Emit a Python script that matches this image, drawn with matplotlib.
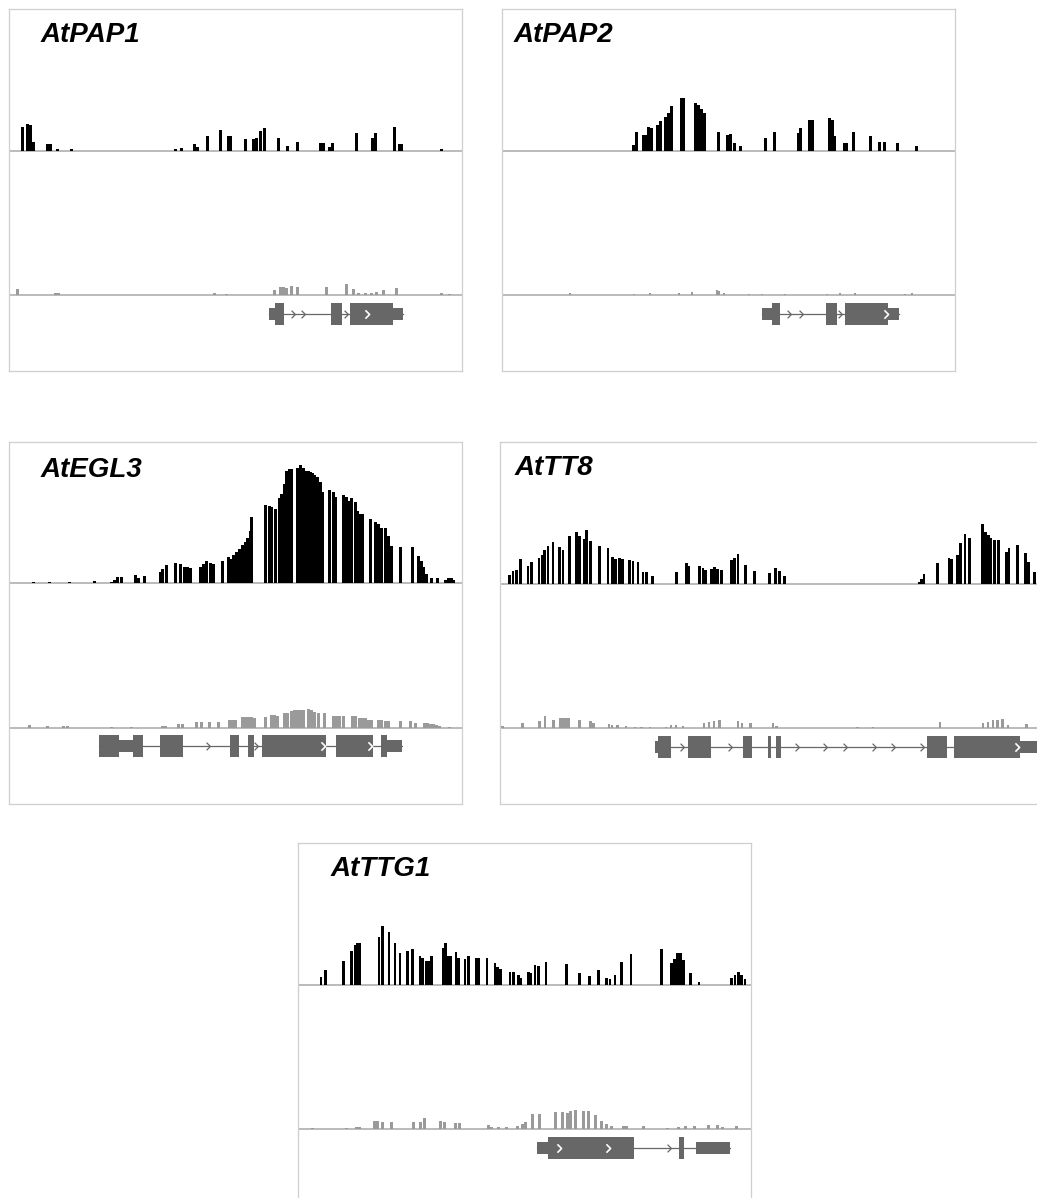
import matplotlib.pyplot as plt
from matplotlib.patches import Rectangle
from matplotlib.path import Path

# figure size in pixels (dpi 100)
FIG_W, FIG_H = 1037, 1198

# ---- coverage data (position along the locus, read depth) ----
# AtPAP1
pap1_x = [12, 17, 20, 23, 37, 40, 47, 61, 165, 171, 184, 187, 197, 210, 218, 220, 235, 243, 246, 250,
          254, 268, 277, 287, 310, 313, 319, 322, 346, 362, 365, 384, 389, 391, 431]
pap1_h = [24, 27, 26, 9, 7, 7, 2, 2, 2, 3, 7, 4, 15, 21, 15, 15, 12, 12, 13, 20,
          23, 13, 5, 9, 8, 8, 4, 8, 18, 13, 18, 24, 7, 7, 2]
pap1_lo_x = [7, 45, 48, 204, 216, 264, 270, 273, 276, 281, 287, 316, 336, 343, 348, 355, 361, 366, 373, 386, 431, 439]
pap1_lo_h = [6, 2, 2, 2, 1, 5, 8, 8, 7, 9, 8, 8, 11, 6, 2, 2, 2, 3, 5, 7, 2, 1]

# AtPAP2
pap2_x = [130, 133, 140, 142, 145, 148, 154, 157, 162, 165, 168, 178, 180, 192, 195, 198, 201, 215, 224, 227,
          231, 237, 262, 271, 295, 297, 306, 309, 326, 329, 331, 341, 343, 350, 367, 376, 381, 394, 413]
pap2_h = [6, 19, 16, 16, 24, 23, 26, 30, 34, 38, 45, 53, 53, 48, 46, 42, 38, 19, 16, 17,
          8, 5, 13, 19, 18, 23, 31, 31, 33, 31, 15, 8, 8, 19, 15, 9, 9, 8, 5]
pap2_lo_x = [67, 131, 147, 176, 189, 214, 216, 221, 246, 259, 282, 324, 337, 352, 402, 409]
pap2_lo_h = [2, 1, 2, 2, 3, 5, 4, 2, 1, 1, 1, 1, 2, 2, 1, 2]

# AtEGL3
egl3_x = [23, 39, 59, 84, 101, 104, 107, 111, 125, 128,
          134, 149.3, 151.7, 156, 165, 169.3, 173.3, 176.7, 179.3, 189.3,
          192.7, 196, 199.3, 202.7, 211.7, 217.7, 220, 222.7, 226, 228.7,
          231.7, 234.3, 237, 239.3, 241, 255, 258.3, 261, 264.3, 268.7,
          271, 273.3, 276, 278.3, 281, 286.7, 290, 292.7, 295.3, 297.7,
          299.3, 301.3, 303.3, 306.7, 309.3, 311.7, 318.3, 322.7, 325, 332.7,
          336, 338.3, 341, 344.3, 347, 349.3, 352, 360, 365, 367.7,
          371, 374.3, 377.7, 380.3, 389.3, 401.7, 407.7, 410.3, 412.7, 415.3,
          421, 427, 434.3, 437.7, 440.3, 442.7]
egl3_h = [1, 1, 1, 2, 1, 3, 6, 6, 8, 5,
          7, 11, 14, 18, 20, 19, 16, 16, 15, 16,
          19, 22, 20, 19, 22, 26, 24, 28, 31, 34,
          38, 41, 45, 52, 66, 78, 77, 76, 74, 85,
          89, 99, 112, 114, 114, 115, 118, 115, 112, 112,
          111, 110, 108, 106, 101, 91, 93, 91, 86, 88,
          86, 82, 85, 81, 72, 69, 69, 64, 61, 59,
          55, 55, 47, 37, 36, 36, 27, 22, 16, 9,
          5, 5, 3, 5, 5, 3]
egl3_lo_x = [19, 37, 53, 57, 101, 121, 152, 155, 168, 172,
             186, 191, 199, 208, 219, 222, 225, 232, 235, 238,
             241, 244, 255, 261, 264, 267, 274, 277, 281, 284,
             287, 290, 293, 298, 301, 304, 308, 314, 323, 326,
             329, 333, 342, 345, 349, 352, 355, 358, 361, 368,
             371, 375, 378, 390, 400, 405, 414, 417, 420, 423,
             426, 429, 439]
egl3_lo_h = [3, 2, 2, 2, 1, 1, 2, 2, 4, 4,
             6, 6, 6, 6, 8, 8, 8, 11, 11, 11,
             11, 10, 11, 13, 13, 12, 15, 15, 17, 18,
             18, 18, 18, 19, 18, 16, 15, 15, 12, 12,
             12, 12, 12, 12, 10, 10, 10, 8, 8, 8,
             8, 7, 7, 7, 7, 5, 5, 5, 4, 4,
             3, 2, 1]

# AtTT8
tt8_x = [8, 11.3, 14.7, 18.7, 26.3, 29.7, 37.3, 40.7, 43, 46.3,
         51.3, 58, 61.3, 68, 74.7, 78, 82.5, 85, 88.7, 98,
         106.3, 110.7, 114, 118, 120.7, 128, 131.3, 136.3, 141.3, 144.7,
         150.7, 174.7, 184.7, 187.3, 198, 201.3, 204, 209.7, 213, 216,
         219.7, 229.7, 233, 236.3, 244, 253, 268, 274, 278, 283,
         417.3, 420, 422.3, 436, 447.3, 450, 456, 459, 463.3, 467.7,
         480.7, 484, 486.7, 489.3, 492.7, 496.7, 505, 507.3, 516, 524,
         526.7, 532.7]
tt8_h = [9, 13, 14, 25, 18, 22, 26, 29, 34, 38,
         42, 37, 34, 48, 52, 48, 45, 54, 43, 38,
         36, 27, 25, 26, 25, 24, 23, 22, 12, 12,
         8, 12, 21, 18, 18, 16, 14, 15, 17, 15,
         14, 24, 26, 30, 19, 13, 11, 16, 13, 8,
         2, 5, 10, 21, 26, 25, 29, 41, 50, 46,
         60, 52, 49, 46, 44, 44, 32, 36, 39, 31,
         22, 12]
tt8_lo_x = [1.2, 21, 38, 43.4, 52, 59, 62, 65, 67, 78,
            89, 92, 107.3, 110.8, 116, 124.6, 133.3, 140.2, 148.8, 164.4,
            169.6, 174.7, 181.7, 202.4, 207.6, 212.8, 218, 236.3, 240.4, 249,
            271.5, 275, 356.2, 371.8, 438.3, 481.7, 486.7, 491.7, 496, 501,
            506.7, 525]
tt8_lo_h = [2, 5, 7, 12, 8, 10, 10, 10, 10, 8,
            7, 5, 4, 3, 3, 2, 1, 1, 1, 1,
            3, 3, 2, 5, 6, 7, 8, 7, 5, 5,
            5, 2, 1, 1, 6, 5, 6, 8, 8, 9,
            3, 4]

# AtTTG1
ttg1_x = [21.3, 26, 43.7, 52, 55.3, 58, 60.3, 79.3, 82.7, 89.3,
          95.3, 100.3, 108, 112.7, 120.3, 122.7, 127, 129.3, 132, 143.7,
          146, 148.7, 151.3, 156.3, 158.7, 165.3, 168.7, 177, 179.3, 187.3,
          195.3, 198, 200.7, 210.3, 213.7, 218.7, 221.3, 228.7, 231.5, 235.3,
          238.7, 246.3, 267, 279.7, 289.7, 298.7, 307, 310.3, 315.3, 322,
          331.3, 362, 372, 374.7, 378, 381, 383.7, 391, 399.3, 432,
          435.3, 438.7, 442, 445.3]
ttg1_h = [8, 15, 24, 34, 40, 42, 42, 48, 59, 53,
          42, 32, 34, 36, 29, 27, 24, 24, 29, 37,
          42, 29, 29, 33, 27, 26, 29, 27, 27, 27,
          22, 18, 16, 13, 13, 10, 7, 13, 12, 20,
          19, 23, 21, 12, 9, 15, 7, 6, 10, 23,
          31, 36, 22, 26, 32, 32, 25, 12, 3, 7,
          10, 13, 10, 6]
ttg1_lo_x = [13, 47, 57, 60, 75, 78, 83, 92, 114, 121,
             125, 141, 145, 156, 160, 189, 192, 199, 207, 218,
             223, 226, 233, 240, 256, 263, 268, 271, 276, 284,
             289, 296, 302, 307, 312, 324, 327, 344, 368, 379,
             386, 395, 409, 418, 423, 437, 453]
ttg1_lo_h = [1, 1, 2, 2, 8, 8, 7, 7, 7, 7,
             11, 8, 7, 6, 6, 4, 2, 2, 2, 3,
             5, 7, 15, 15, 17, 17, 16, 18, 19, 18,
             18, 14, 8, 5, 3, 3, 3, 3, 1, 2,
             3, 3, 4, 4, 2, 3, 2]

# ---- gene models: exon start, exon end, coding (thick) or UTR ----
pap1_exons = [(260, 266, False), (266, 275, True), (322, 333, True), (341, 384, True), (384, 394, False)]
pap1_arrows = [284, 294, 337]
pap1_exon_arrows = [358]

pap2_exons = [(260, 270, False), (270, 278, True), (324, 335, True), (343, 386, True), (386, 397, False)]
pap2_arrows = [287, 299, 338]
pap2_exon_arrows = [384]

egl3_exons = [(90, 110, True), (110, 124, False), (124, 134, True), (151, 174, True), (221, 230, True),
              (239, 245, True), (253, 317, True), (327, 364, True), (372, 378, True), (378, 393, False)]
egl3_arrows = [199, 247]
egl3_exon_arrows = [314, 361]

tt8_exons = [(154.7, 158.2, False), (158.2, 170.3, True), (187.9, 210.3, True), (242.8, 251.8, True),
             (268, 270.8, True), (276, 280.5, True), (427.1, 447.1, True), (454, 519.4, True),
             (519.4, 560, False)]
tt8_arrows = [181.7, 230, 296.8, 325.1, 344.8, 374.2, 393.2, 421.9]
tt8_exon_arrows = [517]

ttg1_exons = [(239, 250, False), (250, 336, True), (381, 386, True), (398, 432, False)]
ttg1_arrows = [371]
ttg1_exon_arrows = [261, 310]

# ---- layout (pixels inside each panel, measured from the panel's top-left) ----
PANEL_W, PANEL_H = 453, 362
TOP_BASE = 141.5      # baseline of the black track
LOW_BASE = 285.8      # baseline of the grey track
GENE_Y = 304.5        # centre line of the gene model
THICK, THIN = 11, 6   # half heights of exons

panels = [
    dict(name='AtPAP1', left=9.3, top=9.3, width=PANEL_W, tx=31, ty=33, bw=3.0,
         x=pap1_x, h=pap1_h, lx=pap1_lo_x, lh=pap1_lo_h,
         exons=pap1_exons, arrows=pap1_arrows, earrows=pap1_exon_arrows),
    dict(name='AtPAP2', left=501.5, top=9.3, width=PANEL_W, tx=12, ty=33, bw=3.0,
         x=pap2_x, h=pap2_h, lx=pap2_lo_x, lh=pap2_lo_h,
         exons=pap2_exons, arrows=pap2_arrows, earrows=pap2_exon_arrows),
    dict(name='AtEGL3', left=9.3, top=441.7, width=PANEL_W, tx=31, ty=35.5, bw=3.0,
         x=egl3_x, h=egl3_h, lx=egl3_lo_x, lh=egl3_lo_h,
         exons=egl3_exons, arrows=egl3_arrows, earrows=egl3_exon_arrows),
    dict(name='AtTT8', left=500.2, top=442.3, width=560, tx=14, ty=33, bw=2.8,
         x=tt8_x, h=tt8_h, lx=tt8_lo_x, lh=tt8_lo_h,
         exons=tt8_exons, arrows=tt8_arrows, earrows=tt8_exon_arrows),
    dict(name='AtTTG1', left=298.3, top=843.3, width=PANEL_W, tx=32, ty=33, bw=2.7,
         x=ttg1_x, h=ttg1_h, lx=ttg1_lo_x, lh=ttg1_lo_h,
         exons=ttg1_exons, arrows=ttg1_arrows, earrows=ttg1_exon_arrows),
]

GENE_COL = '#676767'
GREY_COL = '#9a9a9a'
LINE_COL = '#b5b5b5'
FRAME_COL = '#cfcfcf'

chevron = Path([(-0.5, 1), (0.5, 0), (-0.5, -1)], [Path.MOVETO, Path.LINETO, Path.LINETO])

fig = plt.figure(figsize=(FIG_W / 100, FIG_H / 100), dpi=100)
fig.patch.set_facecolor('white')

for p in panels:
    w = p['width']
    ax = fig.add_axes([p['left'] / FIG_W, 1 - (p['top'] + PANEL_H) / FIG_H,
                       w / FIG_W, PANEL_H / FIG_H])
    ax.set_xlim(0, w)
    ax.set_ylim(PANEL_H, 0)
    ax.set_xticks([])
    ax.set_yticks([])
    for s in ax.spines.values():
        s.set_color(FRAME_COL)
        s.set_linewidth(0.9)

    # tracks
    ax.axhline(TOP_BASE, color=LINE_COL, lw=1.3, zorder=1)
    ax.axhline(LOW_BASE, color=LINE_COL, lw=1.3, zorder=1)
    ax.bar(p['x'], [-v for v in p['h']], bottom=TOP_BASE, width=p['bw'], align='edge',
           color='black', linewidth=0, zorder=2)
    ax.bar(p['lx'], [-v for v in p['lh']], bottom=LOW_BASE, width=2.4, align='edge',
           color=GREY_COL, linewidth=0, zorder=2)

    # gene model
    ex = p['exons']
    ax.plot([ex[0][0], ex[-1][1]], [GENE_Y, GENE_Y], color=GENE_COL, lw=0.9, zorder=2)
    for s, e, coding in ex:
        hh = THICK if coding else THIN
        ax.add_patch(Rectangle((s, GENE_Y - hh), e - s, 2 * hh, facecolor=GENE_COL,
                               edgecolor='none', zorder=3))
    ax.plot(p['arrows'], [GENE_Y] * len(p['arrows']), ls='none', marker=chevron, ms=5.5,
            mfc='none', mec=GENE_COL, mew=0.9, zorder=3)
    ax.plot(p['earrows'], [GENE_Y] * len(p['earrows']), ls='none', marker=chevron, ms=6,
            mfc='none', mec='white', mew=1.2, zorder=4)

    ax.text(p['tx'], p['ty'], p['name'], fontsize=20, fontweight='bold', fontstyle='italic',
            family=['Liberation Sans', 'DejaVu Sans'], va='baseline', ha='left', color='black')

fig.savefig('out.png', dpi=100, facecolor='white')
